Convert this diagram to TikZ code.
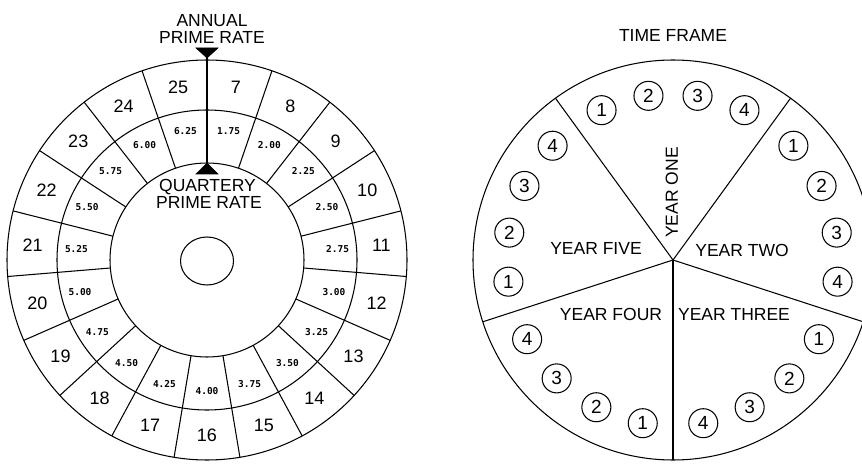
\documentclass[tikz,border=0pt]{standalone}
\usepackage{fontspec}
\setmainfont{Liberation Sans}
\newfontfamily\monof{DejaVu Sans Mono}
\begin{document}
\begin{tikzpicture}[x=1pt,y=1pt,line width=1.05pt,
  lbl/.style={font=\fontsize{17.5}{18}\selectfont,inner sep=0pt,text height=12.5pt,text depth=0pt},
  ringnum/.style={font=\fontsize{18}{18}\selectfont,inner sep=0pt,text height=12.8pt,text depth=0pt},
  rate/.style={font=\monof\bfseries\fontsize{9.5}{9.5}\selectfont,inner sep=0pt},
  qnum/.style={circle,draw,line width=1.05pt,minimum size=29pt,inner sep=0pt,font=\fontsize{19}{19}\selectfont},
  tri/.style={fill=black,draw=black,line width=0.6pt}]
\useasboundingbox (0,0) rectangle (862,464);
\clip (0,0) rectangle (862,464);
% ---------- left wheel ----------
\coordinate (L) at (207,204);
\draw (L) circle (200);
\draw (L) circle (150);
\draw (L) circle (97);
\draw ([shift={(0,-1)}]L) ellipse (26.5 and 24);
\foreach \k in {0,...,18}
  \draw ([shift={(90+\k*360/19:97)}]L) -- ([shift={(90+\k*360/19:200)}]L);
\foreach \v [count=\i from 0] in {7,8,...,25}
  \node[ringnum] (o\i) at ([shift={(90-\i*360/19-180/19:175)}]L) {\v};
\foreach \v [count=\i from 0] in {1.75,2.00,2.25,2.50,2.75,3.00,3.25,3.50,3.75,4.00,4.25,4.50,4.75,5.00,5.25,5.50,5.75,6.00,6.25}
  \node[rate] (m\i) at ([shift={(90-\i*360/19-180/19:131)}]L) {\v};
% pointer
\coordinate (ptop) at (207,416);
\coordinate (pbot) at (207,301);
\draw (ptop) -- (pbot);
\fill[tri] (196,416) -- (218,416) -- (207,406) -- cycle;
\fill[tri] (196,290) -- (218,290) -- (207,301) -- cycle;
\node[lbl] (ann1) at (212,444) {ANNUAL};
\node[lbl] (ann2) at (212,427) {PRIME RATE};
\node[lbl] (q1) at (207.5,279) {QUARTERY};
\node[lbl] (q2) at (209,262) {PRIME RATE};
% ---------- right wheel ----------
\coordinate (R) at (673,204);
\draw (R) circle (200);
\foreach \a in {126,54,-18,-90,198}
  \draw (R) -- ([shift={(\a:200)}]R);
\node[lbl] (tf) at (673,429) {TIME FRAME};
\node[lbl,rotate=90] (y1) at (671.5,271.5) {YEAR ONE};
\node[lbl] (y2) at (742,214) {YEAR TWO};
\node[lbl] (y3) at (734,150) {YEAR THREE};
\node[lbl] (y4) at (611,150) {YEAR FOUR};
\node[lbl] (y5) at (596,216) {YEAR FIVE};
\foreach \s in {0,...,4}
  \foreach \j in {1,...,4}
    \node[qnum] (c\s\j) at ([shift={(126-72*\s-10.5-17*\j+17:166)}]R) {\j};
\end{tikzpicture}
\end{document}
